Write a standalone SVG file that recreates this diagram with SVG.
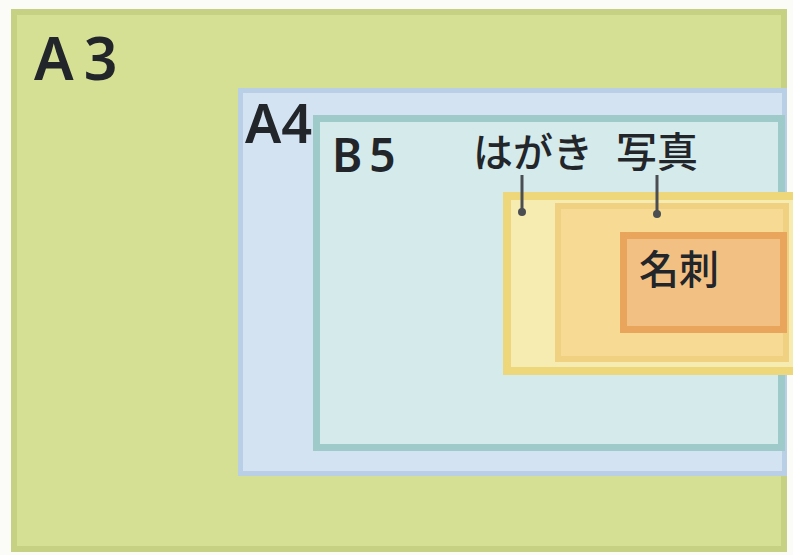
<svg xmlns="http://www.w3.org/2000/svg" width="793" height="555" viewBox="0 0 793 555">
<style>
.lat{font-family:"Noto Sans","Liberation Sans",sans-serif;font-weight:600;fill:#22252a}
.jp{font-family:"Noto Sans CJK JP","Noto Sans",sans-serif;font-weight:500;fill:#22252a}
.lead{stroke:#4a4d52;stroke-width:3;fill:none}
</style>
<rect width="793" height="555" fill="#fbfbf8"/>
<g id="a3">
<rect x="14" y="12" width="770" height="537" fill="#d5e095" stroke="#c6d184" stroke-width="6"/>
<text class="lat" x="34" y="80" font-size="59" letter-spacing="10">A3</text>
</g>
<g id="a4">
<rect x="240.5" y="90.5" width="544" height="383" fill="#d3e3f1" stroke="#b9cfe6" stroke-width="5"/>
<text class="lat" x="245" y="143" font-size="54">A4</text>
</g>
<g id="b5">
<rect x="316.5" y="118.5" width="465" height="329" fill="#d4eaeb" stroke="#9ecaca" stroke-width="7"/>
<text class="lat" x="332" y="172" font-size="46" letter-spacing="7">B5</text>
</g>
<g id="hagaki">
<rect x="507" y="196" width="290" height="175" fill="#f6ebb0" stroke="#eed77a" stroke-width="8"/>
<text class="jp" x="473" y="167" font-size="40">はがき</text>
</g>
<g id="shashin">
<rect x="558" y="206" width="228" height="153" fill="#f7da93" stroke="#f0d182" stroke-width="6"/>
<text class="jp" x="616" y="167" font-size="41">写真</text>
</g>
<g id="meishi">
<rect x="623.5" y="235.5" width="160" height="94" fill="#f2c083" stroke="#e9a55c" stroke-width="7"/>
<text class="jp" x="639" y="284" font-size="40">名刺</text>
</g>
<g id="connectors">
<line class="lead" x1="522" y1="175" x2="522" y2="211"/>
<circle cx="522" cy="212" r="4" fill="#4a4d52"/>
<line class="lead" x1="657" y1="175" x2="657" y2="213"/>
<circle cx="657" cy="214" r="4" fill="#4a4d52"/>
</g>
</svg>
